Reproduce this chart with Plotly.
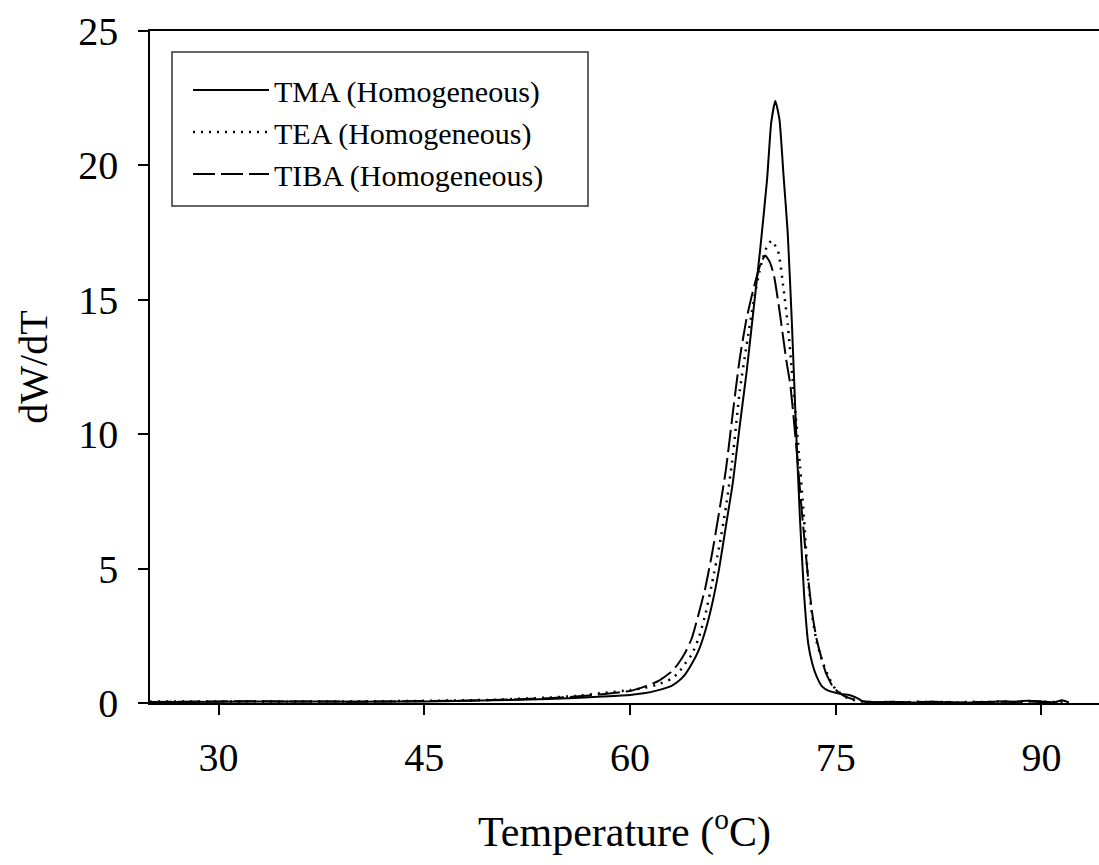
import plotly.graph_objects as go

# ---- data ----
tma_T = [25, 30, 35, 40, 45, 50, 54, 56, 58, 60, 61, 62, 63, 63.5, 64, 64.5, 65, 65.5, 66, 66.5,
         67, 67.5, 68, 68.5, 69, 69.5, 70, 70.3, 70.6, 70.9, 71.2, 71.5, 71.8, 72.1, 72.4, 72.7,
         73.0, 73.3, 73.6, 74.0, 74.5, 75, 75.5, 76, 76.5, 77, 78, 79, 80, 81, 82, 83, 84, 85,
         86, 87, 88, 89, 90, 91, 91.5, 92]
tma_y = [0.03, 0.05, 0.06, 0.05, 0.06, 0.10, 0.15, 0.19, 0.24, 0.30, 0.36, 0.47, 0.63, 0.80, 1.05,
         1.45, 1.95, 2.7, 3.7, 5.0, 6.6, 8.2, 10.3, 12.3, 14.6, 16.9, 19.5, 21.6, 22.4, 21.7, 19.6,
         17.5, 14.2, 10.3, 6.8, 4.0, 2.2, 1.45, 1.0, 0.62, 0.45, 0.38, 0.33, 0.30, 0.20, 0.06,
         0.02, 0.05, 0.03, 0.02, 0.06, 0.03, 0.01, 0.02, 0.04, 0.06, 0.05, 0.08, 0.06, 0.03, 0.10, 0.02]

tea_T = [25, 30, 35, 40, 45, 50, 54, 56, 58, 60, 61, 62, 63, 63.5, 64, 64.5, 65, 65.5, 66, 66.5,
         67, 67.5, 68, 68.5, 69, 69.5, 70, 70.33, 70.8, 71.2, 71.5, 71.8, 72.1, 72.4, 72.7, 73.0,
         73.3, 73.6, 74.0, 74.5, 75, 75.5, 76, 77, 78, 79, 80, 81, 82, 83, 84, 85, 86, 87, 88,
         89, 90, 91, 92]
tea_y = [0.05, 0.06, 0.05, 0.06, 0.08, 0.12, 0.20, 0.26, 0.37, 0.48, 0.56, 0.68, 0.90, 1.10, 1.45,
         1.80, 2.4, 3.3, 4.5, 5.8, 7.3, 9.2, 11.6, 13.3, 14.9, 16.2, 17.0, 17.2, 16.8, 15.4, 14.1,
         12.4, 10.6, 8.8, 6.8, 4.5, 3.2, 2.3, 1.6, 0.95, 0.50, 0.30, 0.15, 0.05, 0.03, 0.04, 0.02,
         0.05, 0.03, 0.04, 0.02, 0.05, 0.03, 0.06, 0.04, 0.07, 0.05, 0.04, 0.03]

tiba_T = [25, 30, 35, 40, 45, 50, 54, 56, 58, 60, 61, 62, 63, 63.5, 64, 64.5, 65, 65.5, 66, 66.5,
          67, 67.5, 68, 68.5, 69, 69.5, 69.85, 70.2, 70.5, 70.9, 71.4, 71.7, 72.1, 72.5, 73.0,
          73.3, 73.6, 74.0, 74.3, 74.8, 75.3, 76, 76.8, 78, 79, 80, 81, 82, 83, 84, 85, 86, 87,
          88, 89, 90, 91]
tiba_y = [0.04, 0.06, 0.06, 0.05, 0.07, 0.11, 0.18, 0.24, 0.33, 0.45, 0.60, 0.80, 1.15, 1.45,
          1.85, 2.4, 3.3, 4.3, 5.6, 7.1, 8.7, 10.8, 12.8, 14.3, 15.4, 16.3, 16.65, 16.4, 15.9,
          14.6, 12.75, 11.8, 9.7, 7.3, 4.6, 3.3, 2.4, 1.6, 1.1, 0.6, 0.36, 0.18, 0.08, 0.03,
          0.04, 0.02, 0.05, 0.03, 0.04, 0.02, 0.04, 0.03, 0.05, 0.04, 0.06, 0.04, 0.03]

series_names = ["TMA (Homogeneous)", "TEA (Homogeneous)", "TIBA (Homogeneous)"]
x_ticks = [30, 45, 60, 75, 90]
y_ticks = [0, 5, 10, 15, 20, 25]

FONT = "Liberation Serif, Times New Roman, serif"

fig = go.Figure()
fig.add_trace(go.Scatter(x=tma_T, y=tma_y, mode="lines", name=series_names[0],
                         line=dict(color="black", width=2, shape="spline", smoothing=0.5)))
fig.add_trace(go.Scatter(x=tea_T, y=tea_y, mode="lines", name=series_names[1],
                         line=dict(color="black", width=2.5, dash="2px,6px", shape="spline", smoothing=0.5)))
fig.add_trace(go.Scatter(x=tiba_T, y=tiba_y, mode="lines", name=series_names[2],
                         line=dict(color="black", width=2, dash="22px,6px", shape="spline", smoothing=0.5)))

# legend frame (plot area spans x 150..1099 px, y 31..703 px)
fig.add_shape(type="rect", xref="paper", yref="paper",
              x0=(172 - 150) / 949, x1=(588 - 150) / 949,
              y0=(703 - 206) / 672, y1=(703 - 52) / 672,
              line=dict(color="#333333", width=1.5), fillcolor="rgba(0,0,0,0)", layer="above")

fig.update_layout(
    width=1099, height=865,
    margin=dict(l=150, r=0, t=31, b=162),
    paper_bgcolor="white", plot_bgcolor="white",
    font=dict(family=FONT, color="black", size=40),
    showlegend=True,
    legend=dict(
        x=(188 - 150) / 949, y=(703 - 64) / 672, xanchor="left", yanchor="top",
        borderwidth=0, bgcolor="rgba(0,0,0,0)",
        font=dict(family=FONT, size=30, color="black"),
        itemwidth=76, tracegroupgap=0,
    ),
    xaxis=dict(
        range=[25, 94.2], tickvals=x_ticks, ticktext=[str(v) for v in x_ticks],
        showgrid=False, zeroline=False,
        showline=True, linecolor="black", linewidth=1.5, mirror=True,
        ticks="outside", ticklen=10, tickwidth=1.5, tickcolor="black",
        tickfont=dict(family=FONT, size=40), ticklabelstandoff=8,
        title=dict(text="Temperature (<sup>o</sup>C)", font=dict(family=FONT, size=42), standoff=38),
    ),
    yaxis=dict(
        range=[0, 25], tickvals=y_ticks, ticktext=[str(v) for v in y_ticks],
        showgrid=False, zeroline=False,
        showline=True, linecolor="black", linewidth=1.5,
        ticks="outside", ticklen=10, tickwidth=1.5, tickcolor="black",
        tickfont=dict(family=FONT, size=40), ticklabelstandoff=12,
        title=dict(text="dW/dT", font=dict(family=FONT, size=40), standoff=18),
    ),
)

fig.write_html("out.html")
